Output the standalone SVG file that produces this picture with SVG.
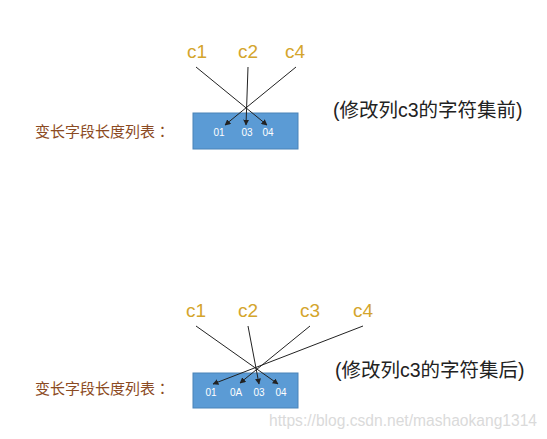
<svg xmlns="http://www.w3.org/2000/svg" width="547" height="439" viewBox="0 0 547 439">
<defs>
<marker id="ah" viewBox="0 0 10 10" refX="9" refY="5" markerWidth="6" markerHeight="6" orient="auto" markerUnits="userSpaceOnUse"><path d="M0,0 L10,5 L0,10 z" fill="#222"/></marker>
<style>
.box{fill:#5B9BD5;stroke:#4A83B8;stroke-width:1}
.col{font-family:"Liberation Sans","Noto Sans",sans-serif;font-size:19px;fill:#D4A52C;text-anchor:middle}
.val{font-family:"Liberation Sans",sans-serif;font-size:10px;fill:#fff;text-anchor:middle}
.lbl{font-family:"Noto Sans CJK TC",sans-serif;font-size:15px;fill:#8B4A22}
.note{font-family:"Liberation Sans","Noto Sans CJK SC",sans-serif;font-size:19.5px;fill:#222}
.wm{font-family:"Liberation Sans",sans-serif;font-size:15.6px;fill:#DADADA}
.ln{stroke:#222;stroke-width:1;fill:none;marker-end:url(#ah)}
</style>
</defs>
<rect width="547" height="439" fill="#fff"/>
<g id="top">
<g id="top-list"><rect class="box" x="193" y="113" width="105" height="36"/>
<text class="val" x="219" y="136">01</text><text class="val" x="247" y="136">03</text><text class="val" x="268" y="136">04</text></g>
<g id="top-c1"><text class="col" x="197" y="58">c1</text></g>
<g id="top-c2"><text class="col" x="248" y="58">c2</text></g>
<g id="top-c4"><text class="col" x="295" y="58">c4</text></g>
<g id="top-label"><text class="lbl" x="35" y="137">变长字段长度列表：</text></g>
<g id="top-note"><text class="note" x="333" y="117">(修改列c3的字符集前)</text></g>
</g>
<g id="bottom">
<g id="bot-list"><rect class="box" x="193" y="373" width="105" height="35"/>
<text class="val" x="211" y="396">01</text><text class="val" x="236" y="396">0A</text><text class="val" x="259" y="396">03</text><text class="val" x="281" y="396">04</text></g>
<g id="bot-c1"><text class="col" x="196" y="317">c1</text></g>
<g id="bot-c2"><text class="col" x="248" y="317">c2</text></g>
<g id="bot-c3"><text class="col" x="310" y="317">c3</text></g>
<g id="bot-c4"><text class="col" x="363" y="317">c4</text></g>
<g id="bot-label"><text class="lbl" x="35" y="394">变长字段长度列表：</text></g>
<g id="bot-note"><text class="note" x="335" y="377">(修改列c3的字符集后)</text></g>
</g>
<g id="connectors">
<line class="ln" x1="196" y1="67" x2="267" y2="125"/>
<line class="ln" x1="248" y1="67" x2="246" y2="125"/>
<line class="ln" x1="296" y1="67" x2="225" y2="125"/>
<line class="ln" x1="196" y1="326" x2="278" y2="384"/>
<line class="ln" x1="248" y1="326" x2="259" y2="384"/>
<line class="ln" x1="310" y1="326" x2="240" y2="383"/>
<line class="ln" x1="363" y1="326" x2="213" y2="384"/>
</g>
<text class="wm" x="537" y="426" text-anchor="end">https://blog.csdn.net/mashaokang1314</text>
</svg>
